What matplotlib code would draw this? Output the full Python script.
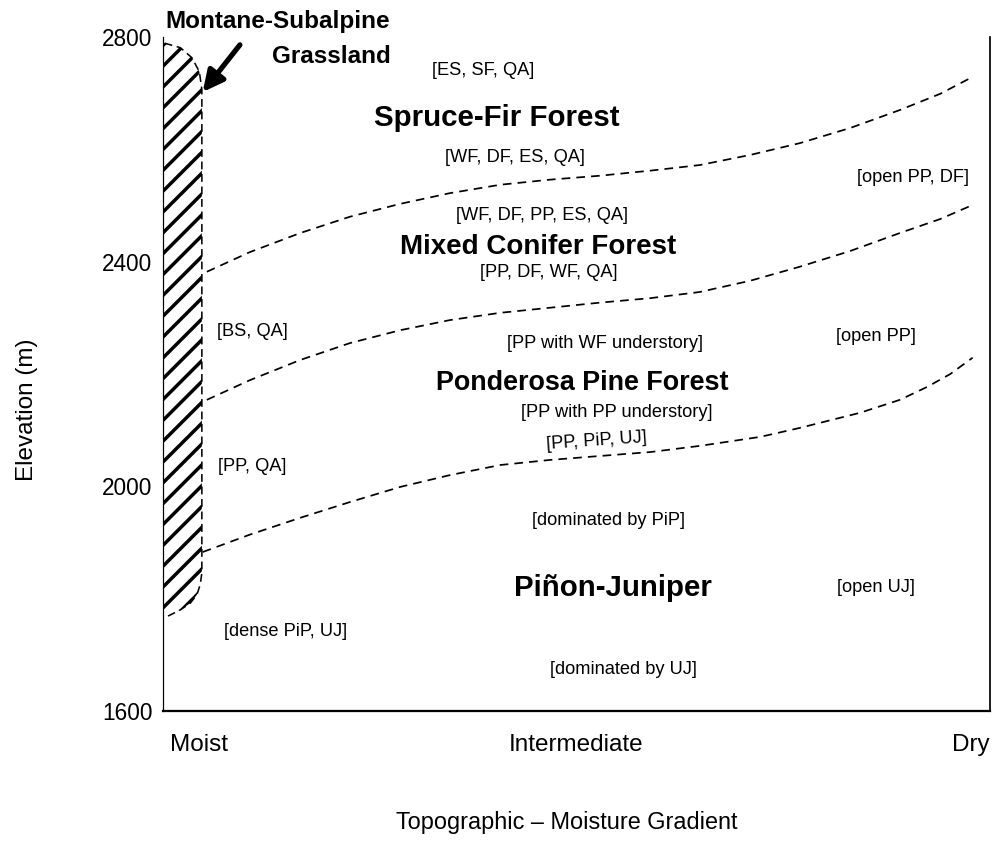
import matplotlib
matplotlib.use("Agg")
import matplotlib.pyplot as plt

plt.rcParams["font.family"] = ["Liberation Sans", "DejaVu Sans"]
plt.rcParams["hatch.linewidth"] = 2.0

# axis setup
x_ticks = [0.008, 0.5, 1.0]
x_tick_labels = ["Moist", "Intermediate", "Dry"]
y_ticks = [1600, 2000, 2400, 2800]

# zone boundaries (dashed)
b1_x = [0.053, 0.105, 0.166, 0.226, 0.287, 0.347, 0.408, 0.468, 0.528, 0.589, 0.649,
        0.710, 0.770, 0.831, 0.891, 0.940, 0.979]
b1_y = [2382, 2417, 2451, 2480, 2503, 2522, 2537, 2546, 2553, 2562, 2572,
        2590, 2611, 2638, 2670, 2699, 2729]

b2_x = [0.053, 0.105, 0.166, 0.226, 0.287, 0.347, 0.408, 0.468, 0.528, 0.589, 0.649,
        0.710, 0.770, 0.831, 0.891, 0.940, 0.979]
b2_y = [2154, 2189, 2225, 2255, 2278, 2296, 2309, 2318, 2327, 2335, 2346,
        2366, 2391, 2419, 2451, 2476, 2501]

b3_x = [0.048, 0.105, 0.166, 0.226, 0.287, 0.347, 0.408, 0.468, 0.528, 0.589, 0.649,
        0.722, 0.770, 0.843, 0.891, 0.924, 0.952, 0.979]
b3_y = [1883, 1914, 1944, 1972, 1999, 2020, 2038, 2047, 2054, 2061, 2072,
        2088, 2104, 2131, 2154, 2177, 2200, 2229]

# montane-subalpine grassland outline (right side)
grass_x = [0.002, 0.021, 0.035, 0.044, 0.047, 0.047, 0.045, 0.041, 0.033, 0.021, 0.002]
grass_y = [2789, 2781, 2763, 2738, 2706, 1846, 1825, 1807, 1792, 1780, 1766]

# zone names and species labels
zones = ["Spruce-Fir Forest", "Mixed Conifer Forest", "Ponderosa Pine Forest", "Piñon-Juniper"]
zone_x = [0.404, 0.453, 0.507, 0.544]
zone_y = [2656, 2426, 2184, 1819]
zone_size = [17, 16, 15.5, 17]

species = ["[ES, SF, QA]", "[WF, DF, ES, QA]", "[open PP, DF]", "[WF, DF, PP, ES, QA]",
           "[PP, DF, WF, QA]", "[BS, QA]", "[PP with WF understory]", "[open PP]",
           "[PP with PP understory]", "[PP, QA]", "[dominated by PiP]", "[open UJ]",
           "[dense PiP, UJ]", "[dominated by UJ]"]
species_x = [0.387, 0.426, 0.907, 0.458, 0.466, 0.108, 0.535, 0.862, 0.549, 0.108, 0.539, 0.862,
             0.148, 0.557]
species_y = [2741, 2586, 2549, 2483, 2380, 2275, 2255, 2266, 2131, 2036, 1940, 1819, 1741, 1673]

fig = plt.figure(figsize=(993 / 125, 841 / 125), dpi=125)
ax = fig.add_axes([163 / 993, 1 - 711 / 841, 827 / 993, 674 / 841])
ax.set_xlim(0, 1)
ax.set_ylim(1600, 2800)

# hatched grassland strip
poly_x = [0] + grass_x + [0]
poly_y = [grass_y[0]] + grass_y + [grass_y[-1]]
ax.fill(poly_x, poly_y, facecolor="white", edgecolor="black", hatch="//", linewidth=0)
ax.plot(grass_x, grass_y, color="black", lw=0.9, ls=(0, (5, 3)))

dash = (0, (5, 3.5))
for bx, by in [(b1_x, b1_y), (b2_x, b2_y), (b3_x, b3_y)]:
    ax.plot(bx, by, color="black", lw=1.0, ls=dash)

for name, zx, zy, fs in zip(zones, zone_x, zone_y, zone_size):
    ax.text(zx, zy, name, ha="center", va="center", fontsize=fs, fontweight="bold")

for lab, sx, sy in zip(species, species_x, species_y):
    ax.text(sx, sy, lab, ha="center", va="center", fontsize=10.5)

ax.text(0.524, 2080, "[PP, PiP, UJ]", ha="center", va="center", fontsize=10.5, rotation=4)

ax.text(0.275, 2796, "Montane-Subalpine\nGrassland", ha="right", va="center",
        fontsize=14, fontweight="bold", linespacing=1.65)
ax.annotate("", xy=(0.048, 2702), xytext=(0.093, 2786),
            arrowprops=dict(arrowstyle="-|>,head_length=1.0,head_width=0.5", lw=3,
                            color="black", shrinkA=0, shrinkB=0))

ax.set_yticks(y_ticks)
ax.set_xticks(x_ticks)
ax.set_xticklabels(x_tick_labels, fontsize=14)
labs = ax.get_xticklabels()
labs[0].set_ha("left")
labs[2].set_ha("right")
ax.tick_params(axis="x", length=0, pad=13)
ax.tick_params(axis="y", length=0, pad=6, labelsize=13)

ax.spines["top"].set_visible(False)
ax.spines["left"].set_linewidth(0.7)
ax.spines["bottom"].set_linewidth(1.3)
ax.spines["right"].set_linewidth(1.0)

fig.text(27 / 993, 1 - 410 / 841, "Elevation (m)", rotation=90, ha="center", va="center",
         fontsize=14)
fig.text(567 / 993, 1 - 822 / 841, "Topographic – Moisture Gradient", ha="center",
         va="center", fontsize=13.5)

fig.savefig("out.png", dpi=125)
